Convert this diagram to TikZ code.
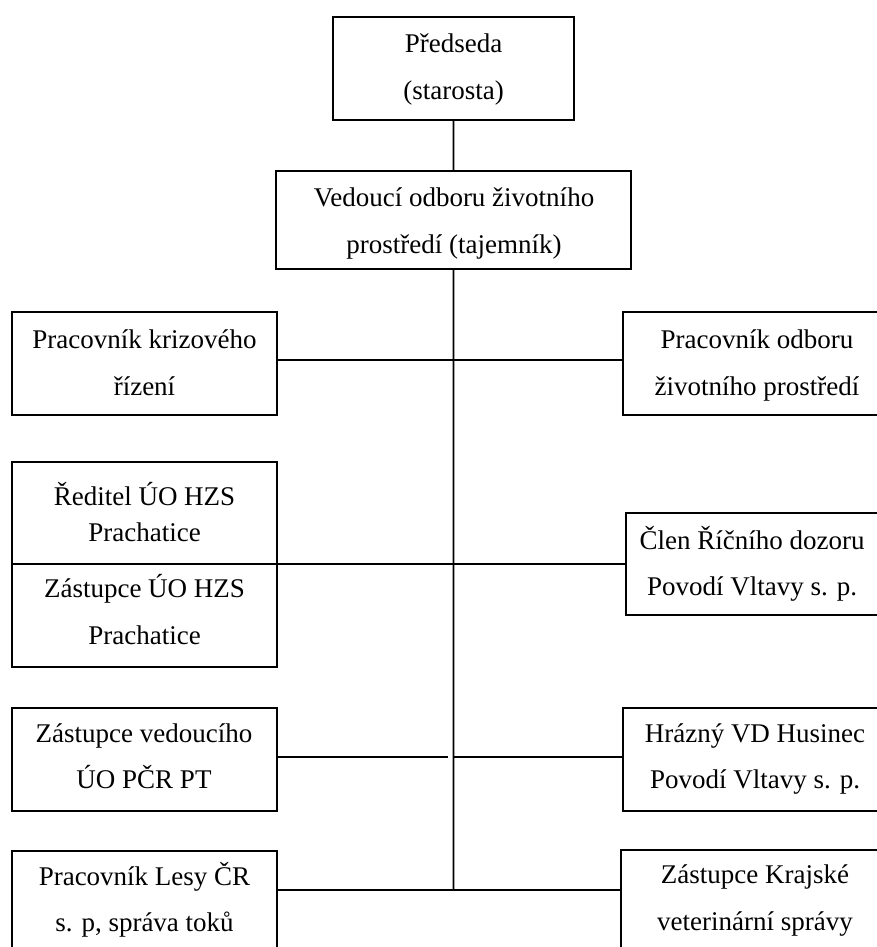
\documentclass[tikz,border=0pt]{standalone}
\usepackage{fontspec}
\setmainfont{Liberation Serif}
\usetikzlibrary{calc}
\begin{document}
\begin{tikzpicture}[x=1bp,y=-1bp,
  box/.style={draw, line width=1.8bp, rectangle, inner sep=0pt, outer sep=0pt, anchor=north west},
  txt/.style={anchor=base, inner sep=0pt, font=\fontsize{27bp}{30bp}\selectfont},
  link/.style={line width=1.8bp}]
\useasboundingbox (0,0) rectangle (877,947);
\clip (0,0) rectangle (877,947);

% boxes
\node[box, minimum width=241bp, minimum height=103bp] (pred) at (333,17) {};
\node[box, minimum width=355bp, minimum height=98bp] (ved) at (276,171) {};
\node[box, minimum width=265bp, minimum height=103bp] (kriz) at (12,312) {};
\node[box, minimum width=266bp, minimum height=103bp] (odb) at (623,312) {};
\node[box, minimum width=265bp, minimum height=102bp] (red) at (12,462) {};
\node[box, minimum width=265bp, minimum height=103bp] (zhzs) at (12,564) {};
\node[box, minimum width=263bp, minimum height=102bp] (clen) at (626,513) {};
\node[box, minimum width=265bp, minimum height=103bp] (zpcr) at (12,708) {};
\node[box, minimum width=266bp, minimum height=103bp] (hraz) at (623,708) {};
\node[box, minimum width=265bp, minimum height=103bp] (lesy) at (12,851) {};
\node[box, minimum width=268bp, minimum height=103bp] (kvs) at (621,850) {};

% texts
\node[txt] (pred1) at (453.5,52.3) {Předseda};
\node[txt] (pred2) at (453.5,99) {(starosta)};
\node[txt] (ved1) at (454,206) {Vedoucí odboru životního};
\node[txt] (ved2) at (454,253.3) {prostředí (tajemník)};
\node[txt] (kriz1) at (144.5,348.3) {Pracovník krizového};
\node[txt] (kriz2) at (144.5,395) {řízení};
\node[txt] (odb1) at (757,348.3) {Pracovník odboru};
\node[txt] (odb2) at (757,395) {životního prostředí};
\node[txt] (red1) at (144.5,505) {Ředitel ÚO HZS};
\node[txt] (red2) at (144.5,541.7) {Prachatice};
\node[txt] (zhzs1) at (144.5,597) {Zástupce ÚO HZS};
\node[txt] (zhzs2) at (144.5,644) {Prachatice};
\node[txt] (clen1) at (752,549.3) {Člen Říčního dozoru};
\node[txt] (clen2) at (752,595.7) {Povodí Vltavy s. p.};
\node[txt] (zpcr1) at (144,742.7) {Zástupce vedoucího};
\node[txt] (zpcr2) at (144,788) {ÚO PČR PT};
\node[txt] (hraz1) at (755,742.7) {Hrázný VD Husinec};
\node[txt] (hraz2) at (755,788) {Povodí Vltavy s. p.};
\node[txt] (lesy1) at (144.5,885.7) {Pracovník Lesy ČR};
\node[txt] (lesy2) at (144.5,931.7) {s. p, správa toků};
\node[txt] (kvs1) at (755,883) {Zástupce Krajské};
\node[txt] (kvs2) at (755,930) {veterinární správy};

% junctions on the central line
\coordinate (j1) at (453.5,360);
\coordinate (j2) at (453.5,564);
\coordinate (j3) at (453.5,757);
\coordinate (j4) at (453.5,890);

% connectors
\draw[link] (pred.south) -- (ved.north);
\draw[link] (ved.south) -- (j4);
\draw[link] (kriz.east |- j1) -- (odb.west |- j1);
\draw[link] (red.south east) -- (clen.west |- j2);
\draw[link] (zpcr.east |- j3) -- ([xshift=-5.5bp]j3);
\draw[link] (j3) -- (hraz.west |- j3);
\draw[link] (lesy.east |- j4) -- (kvs.west |- j4);
\end{tikzpicture}
\end{document}
